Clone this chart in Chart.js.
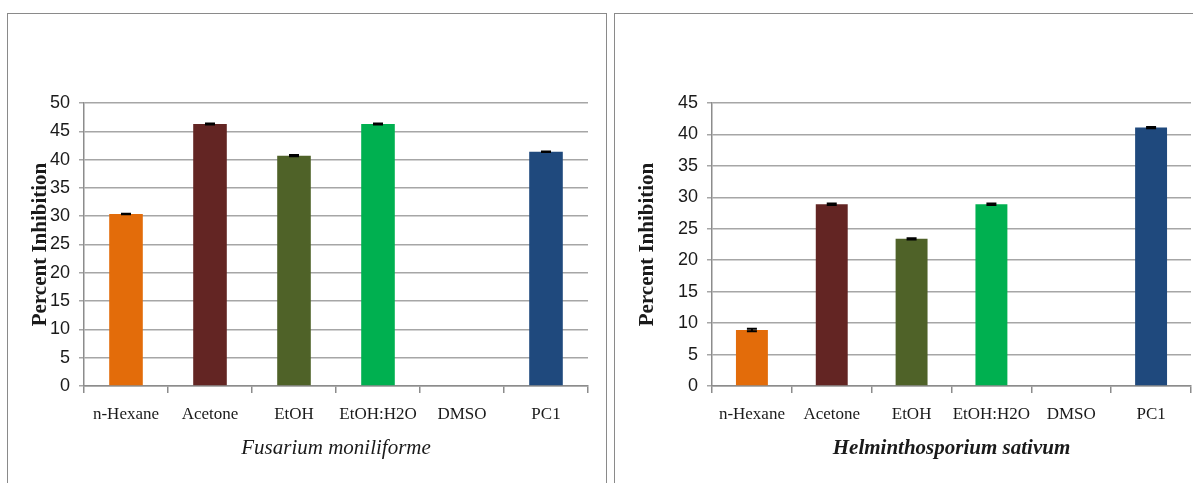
<!doctype html>
<html>
<head>
<meta charset="utf-8">
<title>Percent Inhibition</title>
<script src="https://cdn.jsdelivr.net/npm/chart.js@4.4.1/dist/chart.umd.min.js"></script>
<style>
  body { margin:0; background:#fff; width:1193px; height:483px; overflow:hidden; position:relative; }
  .panel { position:absolute; top:13px; height:480px; border:1.5px solid #8a8a8a; border-bottom:none; box-sizing:border-box; }
  canvas { position:absolute; top:0; }
</style>
</head>
<body>
<div class="panel" style="left:7px;width:600px"></div>
<div class="panel" style="left:614px;width:600px"></div>
<canvas id="fusarium" width="606" height="483" style="left:0"></canvas>
<canvas id="helmintho" width="578" height="483" style="left:615px"></canvas>
<script>
// data
var solvents = ['n-Hexane', 'Acetone', 'EtOH', 'EtOH:H2O', 'DMSO', 'PC1'];
var barColors = ['#e36c0a', '#632523', '#4f6228', '#00b050', '#7f7f7f', '#1f497d'];

var fusariumValues = [30.4, 46.3, 40.7, 46.3, 0, 41.4];
var fusariumErrors = [0.05, 0.1, 0.1, 0.1, 0, 0.05];

var helminthoValues = [8.9, 28.9, 23.4, 28.9, 0, 41.1];
var helminthoErrors = [0.2, 0.1, 0.1, 0.1, 0, 0.1];

var textColor = '#1a1a1a';
var serif = "'Liberation Serif', 'Times New Roman', serif";
var narrow = "'Liberation Sans Narrow', 'Liberation Sans', sans-serif";

// small black error caps on top of the bars
var errorBars = {
  id: 'errorBars',
  afterDatasetsDraw: function(chart) {
    var ctx = chart.ctx;
    var yScale = chart.scales.y;
    chart.data.datasets.forEach(function(ds, di) {
      var meta = chart.getDatasetMeta(di);
      meta.data.forEach(function(bar, i) {
        var v = ds.data[i], e = ds.errors[i];
        if (!v || !e) return;
        var top = yScale.getPixelForValue(v + e);
        var bot = yScale.getPixelForValue(v - e);
        ctx.save();
        ctx.strokeStyle = '#000';
        ctx.lineWidth = 2;
        ctx.beginPath();
        ctx.moveTo(bar.x, top); ctx.lineTo(bar.x, bot);
        ctx.moveTo(bar.x - 5, top); ctx.lineTo(bar.x + 5, top);
        ctx.moveTo(bar.x - 5, bot); ctx.lineTo(bar.x + 5, bot);
        ctx.stroke();
        ctx.restore();
      });
    });
  }
};

function drawPanel(id, values, errors, yMax, fungus, titleWeight, axisLeft, padRight, yTitlePad) {
  return new Chart(document.getElementById(id), {
    type: 'bar',
    data: {
      labels: solvents,
      datasets: [{
        data: values,
        errors: errors,
        backgroundColor: barColors,
        barPercentage: 0.4,
        categoryPercentage: 1.0
      }]
    },
    options: {
      responsive: false,
      animation: false,
      devicePixelRatio: 1,
      layout: { padding: { top: 103, right: padRight, bottom: 0, left: 0 } },
      plugins: { legend: { display: false }, tooltip: { enabled: false } },
      scales: {
        x: {
          grid: { drawOnChartArea: false, drawTicks: true, tickLength: 7, color: '#8c8c8c', lineWidth: 1.5, offset: true },
          border: { color: '#8c8c8c', width: 1.5 },
          ticks: { font: { family: serif, size: 17 }, color: textColor, padding: 11, maxRotation: 0, autoSkip: false },
          title: {
            display: true,
            text: fungus,
            font: { family: serif, size: 21, style: 'italic', weight: titleWeight },
            color: textColor,
            padding: { top: 0, bottom: 22 }
          },
          afterFit: function(s) { s.height = 97; }
        },
        y: {
          min: 0,
          max: yMax,
          ticks: { stepSize: 5, font: { family: narrow, size: 18 }, color: textColor, padding: 9 },
          grid: { color: '#a6a6a6', lineWidth: 1.5, tickLength: 5 },
          border: { color: '#8c8c8c', width: 1.5 },
          title: {
            display: true,
            text: 'Percent Inhibition',
            font: { family: serif, size: 21, weight: 'bold' },
            color: textColor,
            padding: { top: yTitlePad, bottom: 0 }
          },
          afterFit: function(s) { s.width = axisLeft; }
        }
      }
    },
    plugins: [errorBars]
  });
}

drawPanel('fusarium', fusariumValues, fusariumErrors, 50, 'Fusarium moniliforme', 'normal', 84, 18, 28);
drawPanel('helmintho', helminthoValues, helminthoErrors, 45, 'Helminthosporium sativum', 'bold', 97, 2, 20);
</script>
</body>
</html>
